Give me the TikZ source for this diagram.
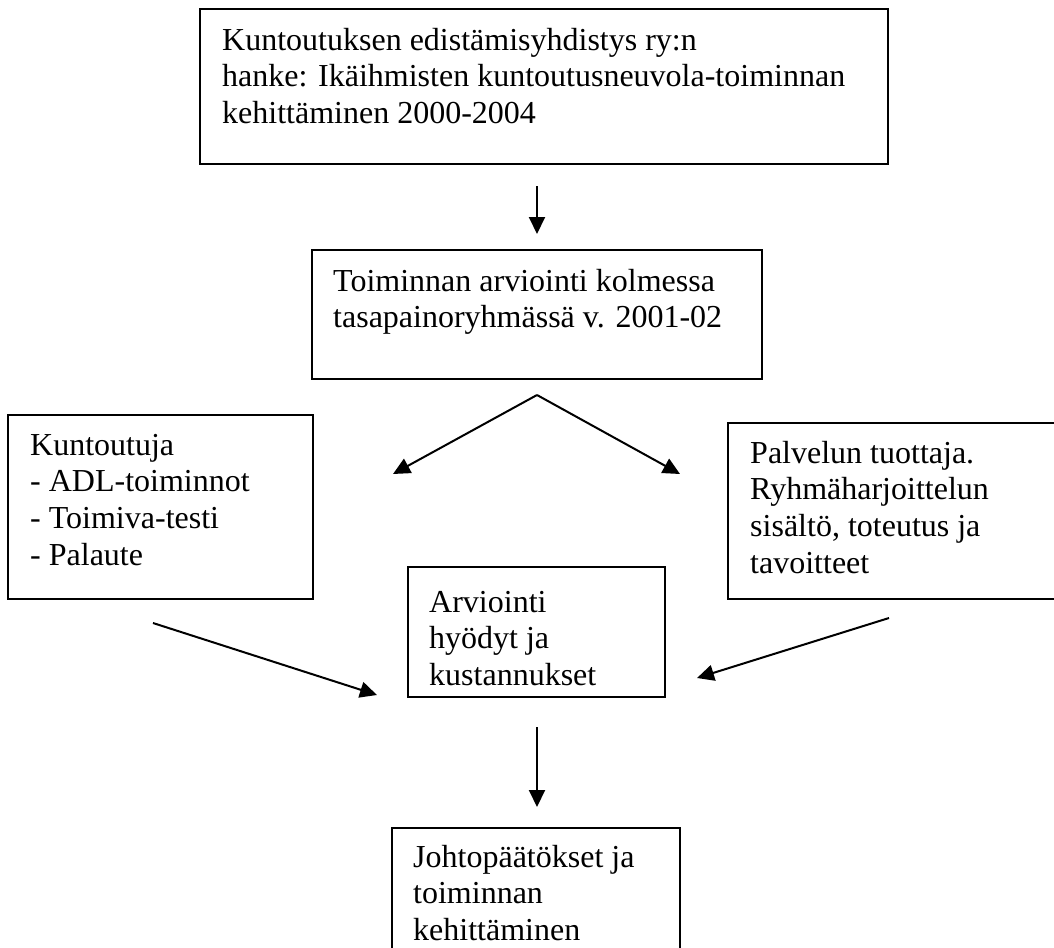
\documentclass[tikz,border=0pt]{standalone}
\usepackage{fontspec}
\setmainfont{Liberation Serif}
\usetikzlibrary{arrows.meta}
\tikzset{
  boxnode/.style={draw=black, line width=1.6pt, rectangle, inner sep=0pt, fill=none},
  boxtext/.style={anchor=north west, inner sep=0pt, align=left, font=\fontsize{32}{36.8}\selectfont},
  conn/.style={draw=black, line width=2pt, -{Triangle[length=17pt,width=16pt]}}
}
\begin{document}
\begin{tikzpicture}[x=1pt,y=-1pt]
\useasboundingbox (0,0) rectangle (1054,947);
\clip (0,0) rectangle (1054,947);
% boxes
\node[boxnode, minimum width=688pt, minimum height=155pt] (top) at (544,86.5) {};
\node[boxnode, minimum width=450pt, minimum height=129pt] (eval) at (537,314.5) {};
\node[boxnode, minimum width=305pt, minimum height=184pt] (left) at (160.5,507) {};
\node[boxnode, minimum width=334pt, minimum height=176pt] (right) at (895,511) {};
\node[boxnode, minimum width=257pt, minimum height=130pt] (mid) at (536.5,632) {};
\node[boxnode, minimum width=288pt, minimum height=134pt] (bottom) at (536,895) {};
% texts
\node[boxtext] (toptext) at (222,24.2) {\strut Kuntoutuksen edistämisyhdistys ry:n\\\strut hanke: Ikäihmisten kuntoutusneuvola-toiminnan\\\strut kehittäminen 2000-2004};
\node[boxtext] (evaltext) at (333,265.2) {\strut Toiminnan arviointi kolmessa\\\strut tasapainoryhmässä v. 2001-02};
\node[boxtext] (lefttext) at (30,429.2) {\strut Kuntoutuja\\\strut - ADL-toiminnot\\\strut - Toimiva-testi\\\strut - Palaute};
\node[boxtext] (righttext) at (750,437.2) {\strut Palvelun tuottaja.\\\strut Ryhmäharjoittelun\\\strut sisältö, toteutus ja\\\strut tavoitteet};
\node[boxtext] (midtext) at (429,586.2) {\strut Arviointi\\\strut hyödyt ja\\\strut kustannukset};
\node[boxtext] (bottomtext) at (413,841.2) {\strut Johtopäätökset ja\\\strut toiminnan\\\strut kehittäminen};
% connector end points
\coordinate (a1s) at (537,186);
\coordinate (a1e) at (537,234);
\coordinate (apex) at (537,395);
\coordinate (ltip) at (393,474);
\coordinate (rtip) at (680,474);
\coordinate (las) at (153,623);
\coordinate (lae) at (377,695);
\coordinate (ras) at (889,618);
\coordinate (rae) at (697,678);
\coordinate (das) at (537,727);
\coordinate (dae) at (537,807);
% connectors
\draw[conn] (a1s) -- (a1e);
\draw[conn] (apex) -- (ltip);
\draw[conn] (apex) -- (rtip);
\draw[conn] (las) -- (lae);
\draw[conn] (ras) -- (rae);
\draw[conn] (das) -- (dae);
\end{tikzpicture}
\end{document}
